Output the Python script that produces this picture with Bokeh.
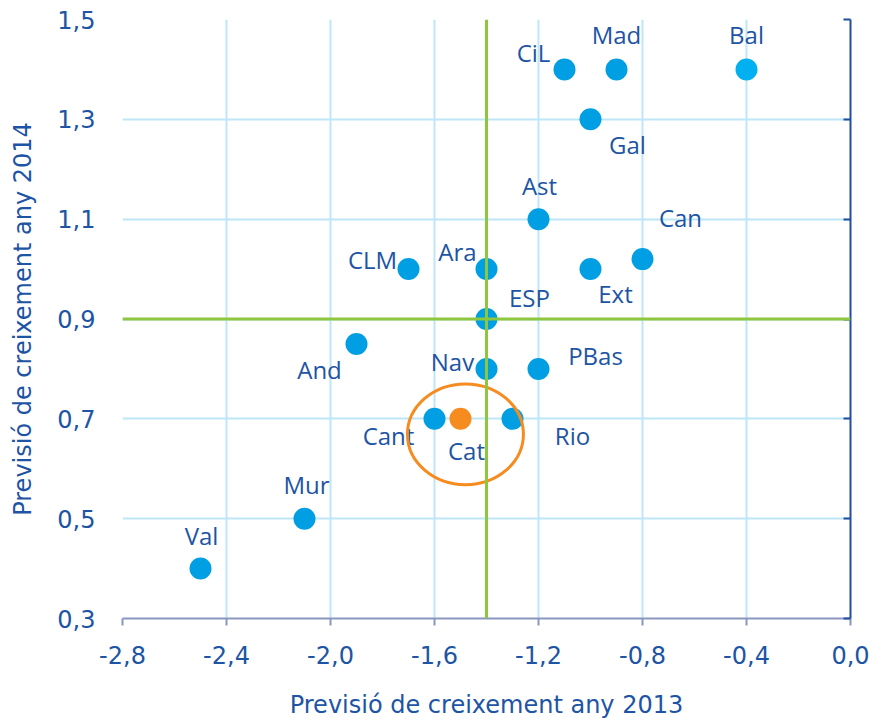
from bokeh.plotting import figure
from bokeh.models import (ColumnDataSource, Range1d, FixedTicker, LinearAxis,
                          CustomJSTickFormatter, Span)
from bokeh.core.properties import value
from bokeh.embed import file_html
from bokeh.resources import INLINE

# ---- data ----
regions = ["Val", "Mur", "And", "CLM", "Cant", "Cat", "Rio", "Nav", "ESP", "Ara",
           "PBas", "Ast", "Ext", "Can", "Gal", "CiL", "Mad", "Bal"]
growth_2013 = [-2.5, -2.1, -1.9, -1.7, -1.6, -1.5, -1.3, -1.4, -1.4, -1.4,
               -1.2, -1.2, -1.0, -0.8, -1.0, -1.1, -0.9, -0.4]
growth_2014 = [0.4, 0.5, 0.85, 1.0, 0.7, 0.7, 0.7, 0.8, 0.9, 1.0,
               0.8, 1.1, 1.0, 1.02, 1.3, 1.4, 1.4, 1.4]
x_ticks = [-2.8, -2.4, -2.0, -1.6, -1.2, -0.8, -0.4, 0.0]
y_ticks = [0.3, 0.5, 0.7, 0.9, 1.1, 1.3, 1.5]
ref_x = -1.4   # ESP 2013
ref_y = 0.9    # ESP 2014
x_title = "Previsió de creixement any 2013"
y_title = "Previsió de creixement any 2014"

# ---- styles ----
BLUE_DOT = "#009fe3"
TEXT = "#1d54a4"
GRID = "#bde6f7"
GREEN = "#8dc63f"
ORANGE = "#f68b1f"
special = {"Cat": ORANGE, "Bal": "#00b0f0"}
colors = [special.get(r, BLUE_DOT) for r in regions]
# label offsets in screen pixels (dx, dy)
label_dx = {"Val": 1, "Mur": 2, "And": -37, "CLM": -36, "Cant": -46, "Cat": 6,
            "Rio": 60, "Nav": -34, "ESP": 43, "Ara": -29, "PBas": 57, "Ast": 1,
            "Ext": 25, "Can": 38, "Gal": 37, "CiL": -31, "Mad": 0, "Bal": 0}
label_dy = {"Val": -33, "Mur": -34, "And": 26, "CLM": -10, "Cant": 17, "Cat": 32,
            "Rio": 17, "Nav": -7, "ESP": -22, "Ara": -18, "PBas": -13, "Ast": -34,
            "Ext": 24, "Can": -42, "Gal": 25, "CiL": -17, "Mad": -35, "Bal": -35}

src = ColumnDataSource(dict(
    x=growth_2013, y=growth_2014, name=regions, color=colors,
    dx=[label_dx[r] for r in regions], dy=[label_dy[r] for r in regions]))

p = figure(width=870, height=721, output_backend="svg", toolbar_location=None,
           x_range=Range1d(x_ticks[0], x_ticks[-1]),
           y_range=Range1d(y_ticks[0], y_ticks[-1]),
           min_border_left=122, min_border_right=20, min_border_top=19,
           min_border_bottom=102)
p.outline_line_color = None
p.background_fill_color = "white"
p.border_fill_color = "white"

fmt = CustomJSTickFormatter(code="return tick.toFixed(1).replace('.', ',');")

xa = p.xaxis[0]
xa.ticker = FixedTicker(ticks=x_ticks)
xa.formatter = fmt
xa.axis_line_color = "#8a96c0"
xa.axis_line_width = 2
xa.major_tick_line_color = "#8a96c0"
xa.major_tick_line_width = 2
xa.major_tick_out = 7
xa.major_tick_in = 0
xa.minor_tick_line_color = None
xa.major_label_standoff = 20
xa.major_label_text_font = "DejaVu Sans"
xa.major_label_text_font_size = "24px"
xa.major_label_text_color = TEXT
xa.axis_label = x_title
xa.axis_label_text_font = "DejaVu Sans"
xa.axis_label_text_font_style = "normal"
xa.axis_label_text_font_size = "24px"
xa.axis_label_text_color = TEXT
xa.axis_label_standoff = 24

ya = p.yaxis[0]
ya.ticker = FixedTicker(ticks=y_ticks)
ya.formatter = fmt
ya.axis_line_color = None
ya.major_tick_line_color = None
ya.minor_tick_line_color = None
ya.major_tick_out = 0
ya.major_tick_in = 0
ya.major_label_standoff = 27
ya.major_label_text_font = "DejaVu Sans"
ya.major_label_text_font_size = "24px"
ya.major_label_text_color = TEXT
ya.axis_label = y_title
ya.axis_label_text_font = "DejaVu Sans"
ya.axis_label_text_font_style = "normal"
ya.axis_label_text_font_size = "24px"
ya.axis_label_text_color = TEXT
ya.axis_label_standoff = 17

ra = LinearAxis(ticker=FixedTicker(ticks=y_ticks), formatter=fmt)
ra.axis_line_color = "#1f4e9e"
ra.axis_line_width = 2
ra.major_tick_line_color = "#1f4e9e"
ra.major_tick_line_width = 2
ra.major_tick_in = 7
ra.major_tick_out = 0
ra.minor_tick_line_color = None
ra.major_label_text_font_size = "0px"
ra.major_label_text_color = None
p.add_layout(ra, "right")

p.xgrid.ticker = FixedTicker(ticks=x_ticks)
p.ygrid.ticker = FixedTicker(ticks=y_ticks)
p.grid.grid_line_color = GRID
p.grid.grid_line_width = 2

p.scatter("x", "y", source=src, size=22, fill_color="color", line_color=None)

p.text("x", "y", text="name", source=src, x_offset="dx", y_offset="dy",
       text_align="center", text_baseline="middle",
       text_font=value("Open Sans"), text_font_size="24px", text_color=TEXT)

p.ellipse(x=[-1.481], y=[0.669], width=0.446, height=0.202,
          fill_color=None, line_color=ORANGE, line_width=3)

p.add_layout(Span(location=ref_x, dimension="height", line_color=GREEN, line_width=3))
p.add_layout(Span(location=ref_y, dimension="width", line_color=GREEN, line_width=3))

open("out.html", "w").write(file_html(p, INLINE))
